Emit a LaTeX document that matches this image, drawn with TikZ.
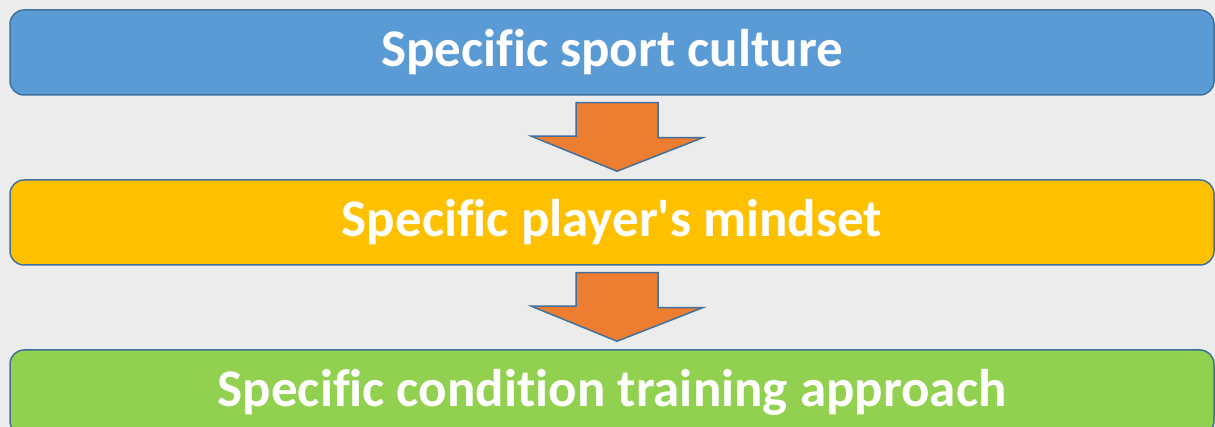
\documentclass[tikz,border=0pt]{standalone}
\usepackage{fontspec}
\setmainfont{Carlito}[Ligatures={NoCommon}]
\usetikzlibrary{calc,positioning}

\definecolor{bgray}{HTML}{ECECEC}
\definecolor{edgeblue}{HTML}{41719C}
\definecolor{cultblue}{HTML}{5B9BD5}
\definecolor{mindyellow}{HTML}{FFC000}
\definecolor{trainggreen}{HTML}{92D050}
\definecolor{flowrange}{HTML}{ED7D31}

\begin{document}
\begin{tikzpicture}[
  x=1pt, y=-1pt,
  every node/.style={font=\fontsize{53}{58}\selectfont\bfseries},
  stage/.style={rectangle, draw=edgeblue, line width=1.5pt, rounded corners=14pt,
                minimum width=1204pt, minimum height=85pt, inner sep=0pt,
                text=white},
  flow/.style={draw=edgeblue, fill=flowrange, line width=1.5pt, line join=miter},
]
  % Background
  \fill[bgray] (0,0) rectangle (1215,427);
  \useasboundingbox (0,0) rectangle (1215,427);

  % Stages
  \node[stage, fill=cultblue] (culture) at (612,52.5) {Specific sport culture};
  \node[stage, fill=mindyellow] (mindset) at (612,222.5)
    {Specific player\textquotesingle s mindset};
  \node[stage, fill=trainggreen] (training) at (612,392.5)
    {Specific condition training approach};

  % Block arrows
  \draw[flow] ($(culture.south)+(5,7)$) ++(-41,0) -- ++(82,0) -- ++(0,35)
    -- ++(44.5,0) -- ($(mindset.north)+(5,-8)$) -- ++(-85.5,-35)
    -- ++(44.5,0) -- cycle;
  \draw[flow] ($(mindset.south)+(5,7)$) ++(-41,0) -- ++(82,0) -- ++(0,35)
    -- ++(44.5,0) -- ($(training.north)+(5,-8)$) -- ++(-85.5,-35)
    -- ++(44.5,0) -- cycle;
\end{tikzpicture}
\end{document}
